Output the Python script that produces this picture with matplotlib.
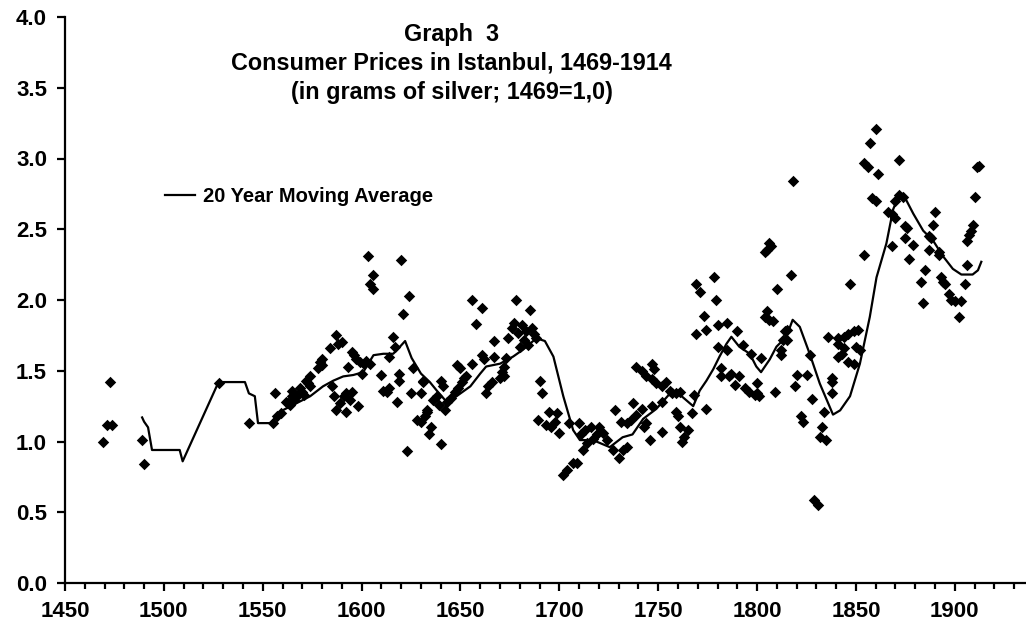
import matplotlib
matplotlib.use("Agg")
import matplotlib.pyplot as plt
from matplotlib.ticker import MultipleLocator

plt.rcParams['font.family'] = ['Liberation Sans', 'DejaVu Sans']

years = [1469, 1471, 1474, 1473, 1489, 1490, 1528, 1543,
         1555, 1556, 1557, 1559, 1562, 1563, 1564, 1565, 1565, 1566, 1568, 1569,
         1570, 1571, 1572, 1573, 1574, 1574, 1578, 1579, 1580, 1580, 1584, 1585,
         1586, 1587, 1587, 1588, 1589, 1590, 1591, 1592, 1592, 1593, 1594, 1595,
         1595, 1596, 1597, 1598, 1599, 1600, 1601, 1602, 1603, 1604, 1604, 1606,
         1606, 1610, 1611, 1613, 1614, 1614, 1616, 1617, 1618, 1619, 1619, 1620,
         1621, 1624, 1623, 1625, 1626, 1628, 1630, 1630, 1631, 1631, 1632, 1633,
         1633, 1634, 1635, 1636, 1638, 1639, 1640, 1640, 1641, 1642, 1643, 1645,
         1647, 1648, 1649, 1650, 1651, 1652, 1653, 1656, 1656, 1658, 1661, 1661,
         1662, 1663, 1664, 1666, 1667, 1667, 1670, 1671, 1672, 1672, 1673, 1674,
         1676, 1677, 1678, 1679, 1680, 1681, 1682, 1683, 1684, 1685, 1686, 1687,
         1688, 1689, 1690, 1691, 1693, 1695, 1696, 1698, 1699, 1700, 1702, 1704,
         1705, 1707, 1709, 1710, 1711, 1712, 1713, 1714, 1716, 1717, 1719, 1720,
         1722, 1724, 1727, 1728, 1730, 1731, 1732, 1734, 1734, 1736, 1737, 1739,
         1739, 1742, 1742, 1743, 1744, 1744, 1746, 1747, 1747, 1747, 1748, 1749,
         1752, 1752, 1752, 1754, 1756, 1757, 1759, 1759, 1760, 1761, 1761, 1762,
         1763, 1765, 1767, 1768, 1769, 1769, 1771, 1773, 1774, 1774, 1778, 1779,
         1780, 1780, 1782, 1782, 1785, 1785, 1786, 1787, 1789, 1790, 1791, 1793,
         1794, 1796, 1797, 1799, 1800, 1800, 1801, 1802, 1804, 1804, 1805, 1805,
         1806, 1806, 1807, 1808, 1809, 1810, 1812, 1812, 1813, 1814, 1815, 1815,
         1817, 1818, 1819, 1820, 1822, 1823, 1825, 1827, 1828, 1829, 1831, 1832,
         1833, 1834, 1835, 1836, 1838, 1838, 1838, 1841, 1841, 1841, 1843, 1844,
         1844, 1846, 1846, 1847, 1849, 1849, 1850, 1851, 1852, 1854, 1854, 1856,
         1857, 1858, 1860, 1860, 1861, 1866, 1868, 1868, 1870, 1870, 1872, 1872,
         1874, 1875, 1875, 1876, 1877, 1879, 1883, 1884, 1885, 1887, 1887, 1888,
         1889, 1890, 1892, 1892, 1893, 1894, 1895, 1897, 1898, 1900, 1902, 1903,
         1905, 1906, 1906, 1907, 1908, 1909, 1910, 1911, 1912]
prices = [1.00, 1.12, 1.12, 1.42, 1.01, 0.84, 1.41, 1.13,
          1.13, 1.34, 1.18, 1.20, 1.28, 1.27, 1.26, 1.36, 1.32, 1.29, 1.33, 1.38,
          1.35, 1.33, 1.43, 1.41, 1.46, 1.39, 1.52, 1.56, 1.54, 1.58, 1.66, 1.39,
          1.32, 1.75, 1.22, 1.69, 1.27, 1.70, 1.32, 1.21, 1.34, 1.53, 1.29, 1.35,
          1.63, 1.61, 1.58, 1.25, 1.56, 1.48, 1.55, 1.57, 2.31, 2.11, 1.55, 2.18,
          2.08, 1.47, 1.36, 1.35, 1.38, 1.60, 1.74, 1.67, 1.28, 1.43, 1.48, 2.28,
          1.90, 2.03, 0.93, 1.34, 1.52, 1.15, 1.14, 1.34, 1.42, 1.43, 1.18, 1.21,
          1.22, 1.05, 1.10, 1.29, 1.32, 1.26, 0.98, 1.43, 1.39, 1.22, 1.28, 1.31,
          1.35, 1.54, 1.38, 1.52, 1.42, 1.45, 1.46, 1.55, 2.00, 1.83, 1.94, 1.61,
          1.58, 1.34, 1.39, 1.42, 1.60, 1.71, 1.45, 1.49, 1.53, 1.46, 1.59, 1.73,
          1.80, 1.84, 2.00, 1.77, 1.67, 1.82, 1.72, 1.78, 1.68, 1.93, 1.80, 1.76,
          1.73, 1.15, 1.43, 1.34, 1.12, 1.21, 1.10, 1.14, 1.20, 1.06, 0.76, 0.80,
          1.13, 0.85, 0.85, 1.13, 1.05, 0.94, 1.08, 0.99, 1.10, 1.02, 1.05, 1.10,
          1.06, 1.01, 0.94, 1.22, 0.88, 1.14, 0.94, 1.13, 0.96, 1.15, 1.27, 1.19,
          1.53, 1.50, 1.23, 1.10, 1.46, 1.13, 1.01, 1.44, 1.55, 1.25, 1.51, 1.41,
          1.39, 1.28, 1.07, 1.42, 1.36, 1.34, 1.34, 1.21, 1.18, 1.35, 1.10, 1.00,
          1.03, 1.08, 1.20, 1.33, 2.11, 1.76, 2.06, 1.89, 1.79, 1.23, 2.16, 2.00,
          1.82, 1.67, 1.52, 1.46, 1.84, 1.65, 1.46, 1.48, 1.40, 1.78, 1.46, 1.68,
          1.38, 1.35, 1.62, 1.33, 1.41, 1.34, 1.32, 1.59, 1.88, 2.34, 1.92, 2.35,
          1.86, 2.40, 2.38, 1.85, 1.35, 2.08, 1.61, 1.65, 1.72, 1.78, 1.79, 1.72,
          2.18, 2.84, 1.39, 1.47, 1.18, 1.14, 1.47, 1.61, 1.30, 0.59, 0.55, 1.03,
          1.10, 1.21, 1.01, 1.74, 1.45, 1.42, 1.34, 1.73, 1.69, 1.60, 1.62, 1.74,
          1.66, 1.76, 1.56, 2.11, 1.78, 1.55, 1.67, 1.79, 1.65, 2.32, 2.97, 2.94,
          3.11, 2.72, 2.70, 3.21, 2.89, 2.62, 2.61, 2.38, 2.70, 2.58, 2.99, 2.74,
          2.73, 2.52, 2.44, 2.51, 2.29, 2.39, 2.13, 1.98, 2.21, 2.45, 2.35, 2.44,
          2.53, 2.62, 2.34, 2.32, 2.16, 2.13, 2.11, 2.04, 2.00, 1.99, 1.88, 1.99,
          2.11, 2.25, 2.42, 2.46, 2.49, 2.53, 2.73, 2.94, 2.95]

# 20 year moving average
ma_years = [1489, 1490, 1492, 1494, 1508, 1509.5, 1527, 1530, 1541, 1543, 1546,
            1547.6, 1554, 1560, 1567, 1574, 1580.5, 1585.7, 1590.7, 1595.8,
            1600.8, 1606, 1611, 1616, 1619.4, 1622, 1625.3, 1630, 1634.5, 1638,
            1643, 1648, 1655, 1660, 1663, 1670, 1676.6, 1681.7, 1688.4, 1692.7,
            1697, 1702, 1707, 1710.4, 1717, 1725.5, 1732, 1737, 1742.4, 1749,
            1756, 1761, 1766, 1767.7, 1771, 1774.4, 1777.8, 1781, 1784.5, 1787,
            1791, 1796.3, 1799.6, 1802, 1806.4, 1809.8, 1814.8, 1818, 1821.6,
            1826.6, 1831.7, 1838.4, 1842, 1847, 1852, 1857, 1860.4, 1865.4,
            1868.8, 1872, 1873.8, 1879, 1884, 1889, 1894, 1899, 1903.3, 1909,
            1911.7, 1913.4]
ma_values = [1.17, 1.14, 1.10, 0.94, 0.94, 0.86, 1.40, 1.42, 1.42, 1.34, 1.32,
             1.13, 1.13, 1.22, 1.27, 1.32, 1.39, 1.43, 1.46, 1.47,
             1.49, 1.61, 1.62, 1.62, 1.67, 1.71, 1.59, 1.48, 1.42, 1.36,
             1.28, 1.32, 1.39, 1.48, 1.53, 1.55, 1.60, 1.65, 1.73, 1.71,
             1.60, 1.32, 1.08, 1.01, 1.01, 0.96, 1.03, 1.05, 1.16, 1.23,
             1.34, 1.33, 1.27, 1.25, 1.36, 1.43, 1.51, 1.60, 1.69, 1.74,
             1.67, 1.62, 1.53, 1.49, 1.58, 1.67, 1.74, 1.86, 1.81,
             1.62, 1.41, 1.19, 1.22, 1.32, 1.55, 1.88, 2.16, 2.40,
             2.64, 2.75, 2.75, 2.61, 2.49, 2.42, 2.31, 2.22, 2.18, 2.18,
             2.21, 2.27]

fig = plt.figure(figsize=(10.26, 6.35), dpi=100)
ax = fig.add_axes([65/1026, 1 - 583/635, (1026 - 65)/1026, (583 - 17)/635])

ax.scatter(years, prices, marker='D', s=34, color='black', linewidths=0, zorder=3)
line, = ax.plot(ma_years, ma_values, color='black', lw=1.6, zorder=2,
                label='20 Year Moving Average')

ax.set_xlim(1450, 1936)
ax.set_ylim(0, 4.0)
ax.xaxis.set_major_locator(MultipleLocator(50))
ax.xaxis.set_minor_locator(MultipleLocator(10))
ax.yaxis.set_major_locator(MultipleLocator(0.5))
ax.yaxis.set_major_formatter(matplotlib.ticker.FormatStrFormatter('%.1f'))

for s in ['top', 'right']:
    ax.spines[s].set_visible(False)
for s in ['left', 'bottom']:
    ax.spines[s].set_linewidth(1.6)

ax.tick_params(axis='both', which='major', direction='out', length=6, width=1.6,
               labelsize=16, pad=7)
ax.tick_params(axis='x', which='minor', direction='out', length=4, width=1.6)
for lab in ax.get_xticklabels() + ax.get_yticklabels():
    lab.set_fontweight('bold')

fig.text(0.44, 1 - 35/635, 'Graph  3', ha='center', va='center',
         fontsize=16.8, fontweight='bold')
fig.text(0.44, 1 - 63/635, 'Consumer Prices in Istanbul, 1469-1914', ha='center',
         va='center', fontsize=16.8, fontweight='bold')
fig.text(0.44, 1 - 93/635, '(in grams of silver; 1469=1,0)', ha='center',
         va='center', fontsize=16.8, fontweight='bold')

ax.legend(handles=[line], loc='center left', bbox_to_anchor=(165/1026, 1 - 197/635),
          bbox_transform=fig.transFigure, frameon=False, borderpad=0,
          borderaxespad=0, handlelength=1.5, handletextpad=0.4,
          prop={'size': 14.5, 'weight': 'bold'})

fig.savefig('out.png', dpi=100, facecolor='white')
